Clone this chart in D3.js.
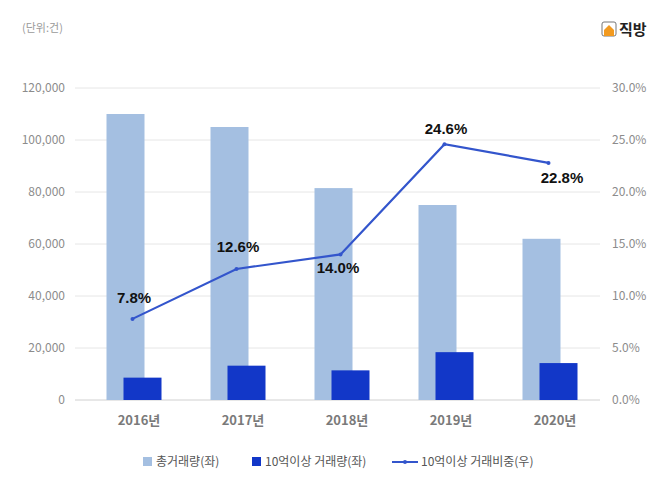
<!DOCTYPE html>
<html><head><meta charset="utf-8">
<script src="https://cdn.jsdelivr.net/npm/d3@7"></script>
<style>body{margin:0;background:#fff;font-family:"Noto Sans CJK KR","Noto Sans",sans-serif}</style>
</head><body><svg id="chart" width="671" height="500"></svg>
<script>
const years = ["2016년", "2017년", "2018년", "2019년", "2020년"];
const totalDeals = [110000, 105000, 81500, 75000, 62000];
const bigDeals = [8600, 13200, 11400, 18400, 14200];
const bigShare = [7.8, 12.6, 14.0, 24.6, 22.8];
const leftTicks = [0, 20000, 40000, 60000, 80000, 100000, 120000];
const rightTicks = [0, 5, 10, 15, 20, 25, 30];

const svg = d3.select("#chart");
const m = { l: 82, r: 69, t: 88, b: 100 };
const W = 671, H = 500;

const x = d3.scaleBand().domain(years).range([m.l, W - m.r]).padding(0);
const yL = d3.scaleLinear().domain([0, 120000]).range([H - m.b, m.t]);
const yR = d3.scaleLinear().domain([0, 30]).range([H - m.b, m.t]);
const cx = (i) => x(years[i]) + x.bandwidth() / 2;

// grid
svg.append("g").selectAll("line").data(leftTicks).join("line")
  .attr("x1", 75).attr("x2", 600)
  .attr("y1", (d) => yL(d)).attr("y2", (d) => yL(d))
  .attr("stroke", (d) => d === 0 ? "#d0d0d0" : "#e6e6e6");

svg.append("g").selectAll("text").data(leftTicks).join("text")
  .attr("x", 65).attr("y", (d) => yL(d) + 4).attr("text-anchor", "end")
  .attr("font-size", 12).attr("fill", "#8c8c8c")
  .text((d) => d3.format(",")(d));

svg.append("g").selectAll("text").data(rightTicks).join("text")
  .attr("x", 612).attr("y", (d) => yR(d) + 4)
  .attr("font-size", 12).attr("fill", "#8c8c8c")
  .text((d) => d.toFixed(1) + "%");

svg.append("g").selectAll("rect").data(totalDeals).join("rect")
  .attr("x", (d, i) => cx(i) - 27.5).attr("width", 38)
  .attr("y", (d) => yL(d)).attr("height", (d) => yL(0) - yL(d))
  .attr("fill", "#a4bfe1");

svg.append("g").selectAll("rect").data(bigDeals).join("rect")
  .attr("x", (d, i) => cx(i) - 10.5).attr("width", 38)
  .attr("y", (d) => yL(d)).attr("height", (d) => yL(0) - yL(d))
  .attr("fill", "#1237c8");

const line = d3.line().x((d, i) => cx(i) - 1.5).y((d) => yR(d));
svg.append("path").attr("d", line(bigShare))
  .attr("fill", "none").attr("stroke", "#3355cc").attr("stroke-width", 2.2);
svg.append("g").selectAll("circle").data(bigShare).join("circle")
  .attr("cx", (d, i) => cx(i) - 1.5).attr("cy", (d) => yR(d)).attr("r", 2)
  .attr("fill", "#3355cc");

const labelOff = [[0, -16], [0, -17], [-4, 19], [0, -10], [12, 20]];
svg.append("g").selectAll("text").data(bigShare).join("text")
  .attr("x", (d, i) => cx(i) + labelOff[i][0])
  .attr("y", (d, i) => yR(d) + labelOff[i][1])
  .attr("text-anchor", "middle").attr("font-size", 15).attr("font-weight", "bold")
  .attr("font-family", "Arial, 'Liberation Sans', sans-serif").attr("fill", "#111")
  .text((d) => d.toFixed(1) + "%");

svg.append("g").selectAll("text").data(years).join("text")
  .attr("x", (d, i) => cx(i) + 5).attr("y", 425).attr("text-anchor", "middle")
  .attr("font-size", 13).attr("font-weight", "bold").attr("fill", "#7a7a7a")
  .text((d) => d);

svg.append("text").attr("x", 22).attr("y", 32).attr("font-size", 11)
  .attr("fill", "#9a9a9a").text("(단위:건)");

// logo
const logo = svg.append("g").attr("transform", "translate(602,22)");
logo.append("rect").attr("width", 14).attr("height", 14).attr("rx", 2)
  .attr("fill", "#fff").attr("stroke", "#777");
logo.append("path").attr("d", "M2,8 L7,3 L12,8 L12,14 L2,14 Z").attr("fill", "#f29a1f");
logo.append("text").attr("x", 17).attr("y", 13).attr("font-size", 15)
  .attr("font-weight", "bold").attr("fill", "#222").text("직방");

// legend
const lg = svg.append("g").attr("transform", "translate(0,462)");
lg.append("rect").attr("x", 143).attr("y", -5).attr("width", 9).attr("height", 9).attr("fill", "#a4bfe1");
lg.append("text").attr("x", 156).attr("y", 4).attr("font-size", 12).attr("fill", "#555").text("총거래량(좌)");
lg.append("rect").attr("x", 252).attr("y", -5).attr("width", 9).attr("height", 9).attr("fill", "#1237c8");
lg.append("text").attr("x", 265).attr("y", 4).attr("font-size", 12).attr("fill", "#555").text("10억이상 거래량(좌)");
lg.append("line").attr("x1", 392).attr("x2", 418).attr("y1", 0).attr("y2", 0).attr("stroke", "#3355cc").attr("stroke-width", 2);
lg.append("circle").attr("cx", 405).attr("cy", 0).attr("r", 2).attr("fill", "#3355cc");
lg.append("text").attr("x", 421).attr("y", 4).attr("font-size", 12).attr("fill", "#555").text("10억이상 거래비중(우)");
</script></body></html>
